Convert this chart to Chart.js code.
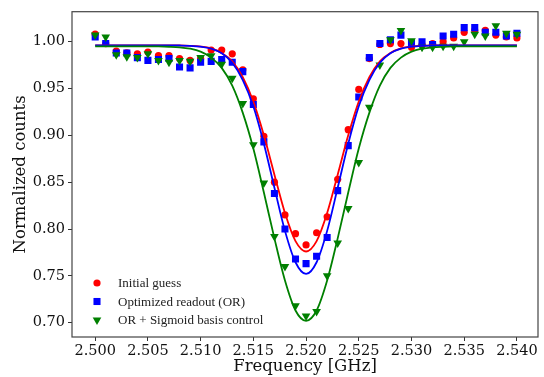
<!DOCTYPE html>
<html>
<head>
<meta charset="utf-8">
<script src="https://cdn.jsdelivr.net/npm/chart.js@4/dist/chart.umd.min.js"></script>
<style>
    html, body { margin: 0; padding: 0; background: #fff; }
    #resonance-chart { display: block; }
</style>
</head>
<body>
<canvas id="resonance-chart" width="544" height="377"></canvas>
<script>
// frequency sweep [GHz]
const freqs = [
    2.500, 2.501, 2.502, 2.503, 2.504, 2.505, 2.506, 2.507, 2.508, 2.509,
    2.510, 2.511, 2.512, 2.513, 2.514, 2.515, 2.516, 2.517, 2.518, 2.519,
    2.520, 2.521, 2.522, 2.523, 2.524, 2.525, 2.526, 2.527, 2.528, 2.529,
    2.530, 2.531, 2.532, 2.533, 2.534, 2.535, 2.536, 2.537, 2.538, 2.539,
    2.540,
];

// measured normalized counts
const initialGuess = [
    1.008, 0.998, 0.990, 0.988, 0.987, 0.989, 0.985, 0.985, 0.982, 0.980,
    0.982, 0.991, 0.991, 0.987, 0.970, 0.939, 0.899, 0.850, 0.815, 0.795,
    0.783, 0.796, 0.813, 0.853, 0.906, 0.949, 0.982, 0.997, 0.998, 0.998,
    0.994, 0.997, 0.998, 1.000, 1.004, 1.010, 1.012, 1.012, 1.007, 1.005,
    1.004,
];
const optimizedReadout = [
    1.005, 0.998, 0.988, 0.988, 0.983, 0.980, 0.981, 0.982, 0.973, 0.972,
    0.978, 0.979, 0.981, 0.978, 0.968, 0.933, 0.893, 0.838, 0.800, 0.768,
    0.763, 0.771, 0.791, 0.841, 0.889, 0.941, 0.983, 0.998, 1.002, 1.007,
    0.998, 1.000, 0.997, 1.006, 1.008, 1.015, 1.015, 1.010, 1.010, 1.006,
    1.009,
];
const sigmoidControl = [
    1.007, 1.005, 0.986, 0.984, 0.983, 0.987, 0.980, 0.978, 0.980, 0.979,
    0.983, 0.985, 0.976, 0.961, 0.934, 0.890, 0.849, 0.792, 0.760, 0.718,
    0.707, 0.712, 0.750, 0.785, 0.822, 0.871, 0.930, 0.975, 1.002, 1.012,
    1.001, 0.994, 0.994, 0.995, 0.995, 1.000, 1.008, 1.006, 1.017, 1.009,
    1.008,
];

// fitted dips on the same frequency grid
const initialFit = [
    0.996, 0.996, 0.996, 0.996, 0.996, 0.996, 0.996, 0.996, 0.996, 0.9956,
    0.9948, 0.9928, 0.988, 0.979, 0.962, 0.936, 0.900, 0.858, 0.817, 0.787,
    0.776, 0.787, 0.817, 0.858, 0.900, 0.936, 0.962, 0.979, 0.988, 0.9928,
    0.9948, 0.9956, 0.996, 0.996, 0.996, 0.996, 0.996, 0.996, 0.996, 0.996,
    0.996,
];
const optimizedFit = [
    0.996, 0.996, 0.996, 0.996, 0.996, 0.996, 0.996, 0.996, 0.9959, 0.9956,
    0.9947, 0.9926, 0.9876, 0.9775, 0.959, 0.931, 0.891, 0.844, 0.798, 0.7645,
    0.752, 0.7645, 0.798, 0.844, 0.891, 0.931, 0.959, 0.9775, 0.9876, 0.9926,
    0.9947, 0.9956, 0.9959, 0.996, 0.996, 0.996, 0.996, 0.996, 0.996, 0.996,
    0.996,
];
const sigmoidFit = [
    0.995, 0.995, 0.995, 0.995, 0.995, 0.995, 0.9949, 0.9946, 0.994, 0.9925,
    0.9894, 0.983, 0.972, 0.953, 0.924, 0.886, 0.839, 0.790, 0.745, 0.713,
    0.702, 0.713, 0.745, 0.790, 0.839, 0.886, 0.924, 0.953, 0.972, 0.983,
    0.9894, 0.9925, 0.994, 0.9946, 0.9949, 0.995, 0.995, 0.995, 0.995, 0.995,
    0.995,
];

const xTicks = [2.500, 2.505, 2.510, 2.515, 2.520, 2.525, 2.530, 2.535, 2.540];
const yTicks = [0.70, 0.75, 0.80, 0.85, 0.90, 0.95, 1.00];

const seriesLabels = ["Initial guess", "Optimized readout (OR)", "OR + Sigmoid basis control"];

const RED = "#ff0000";
const BLUE = "#0000ff";
const GREEN = "#008000";

const toPoints = (ys) => freqs.map((f, i) => ({ x: f, y: ys[i] }));

function scatterSet(label, ys, color, style, radius, rotation, order) {
    return {
        type: "scatter",
        label: label,
        data: toPoints(ys),
        showLine: false,
        pointStyle: style,
        pointRadius: radius,
        pointRotation: rotation,
        pointBackgroundColor: color,
        pointBorderColor: color,
        pointBorderWidth: 0,
        order: order,
    };
}

function fitSet(ys, color, order) {
    return {
        type: "line",
        label: "",
        data: toPoints(ys),
        borderColor: color,
        borderWidth: 1.8,
        pointRadius: 0,
        fill: false,
        cubicInterpolationMode: "monotone",
        order: order,
    };
}

// box around the plot area, drawn over the data like matplotlib spines
const framePlugin = {
    id: "frame",
    afterDraw(chart) {
        const { ctx, chartArea: a } = chart;
        ctx.save();
        ctx.strokeStyle = "#444";
        ctx.lineWidth = 1.2;
        ctx.strokeRect(a.left, a.top, a.right - a.left, a.bottom - a.top);
        ctx.restore();
    },
};

// legend in the lower left corner of the axes
const legendPlugin = {
    id: "cornerLegend",
    afterDraw(chart) {
        const { ctx, chartArea: a } = chart;
        const rows = chart.data.datasets.filter((d) => d.type === "scatter");
        ctx.save();
        ctx.font = "13px 'Liberation Serif', serif";
        ctx.textBaseline = "middle";
        ctx.textAlign = "left";
        rows.forEach((d, i) => {
            const y = a.bottom - 54 + i * 18.5;
            const x = a.left + 25;
            ctx.fillStyle = d.pointBackgroundColor;
            ctx.strokeStyle = d.pointBorderColor;
            Chart.helpers.drawPoint(ctx, {
                pointStyle: d.pointStyle,
                radius: d.pointRadius,
                rotation: d.pointRotation,
                borderWidth: 0,
            }, x, y);
            ctx.fillStyle = "#222";
            ctx.fillText(d.label, a.left + 46, y + 1);
        });
        ctx.restore();
    },
};

const tickFont = { family: "'DejaVu Serif', serif", size: 14.5 };
const titleFont = { family: "'DejaVu Serif', serif", size: 16.5 };

const config = {
    data: {
        datasets: [
            scatterSet(seriesLabels[0], initialGuess, RED, "circle", 3.6, 0, 6),
            scatterSet(seriesLabels[1], optimizedReadout, BLUE, "rect", 5, 0, 5),
            scatterSet(seriesLabels[2], sigmoidControl, GREEN, "triangle", 5, 180, 4),
            fitSet(initialFit, RED, 3),
            fitSet(optimizedFit, BLUE, 2),
            fitSet(sigmoidFit, GREEN, 1),
        ],
    },
    options: {
        responsive: false,
        animation: false,
        layout: {
            padding: { left: 0, top: 11, right: 6, bottom: 0 },
        },
        scales: {
            x: {
                type: "linear",
                min: 2.4978,
                max: 2.542,
                afterBuildTicks: (axis) => {
                    axis.ticks = xTicks.map((v) => ({ value: v }));
                },
                afterFit: (axis) => {
                    axis.height = 40;
                },
                ticks: {
                    color: "#111",
                    font: tickFont,
                    padding: 2,
                    maxRotation: 0,
                    callback: (v) => Number(v).toFixed(3),
                },
                grid: {
                    display: true,
                    drawOnChartArea: false,
                    drawTicks: true,
                    tickLength: 4,
                    tickColor: "#333",
                },
                border: { display: false },
                title: {
                    display: true,
                    text: "Frequency [GHz]",
                    color: "#111",
                    font: titleFont,
                    padding: { top: 0, bottom: 0 },
                },
            },
            y: {
                type: "linear",
                min: 0.6847,
                max: 1.032,
                afterBuildTicks: (axis) => {
                    axis.ticks = yTicks.map((v) => ({ value: v }));
                },
                afterFit: (axis) => {
                    axis.width = 72;
                },
                ticks: {
                    color: "#111",
                    font: tickFont,
                    padding: 3,
                    callback: (v) => Number(v).toFixed(2),
                },
                grid: {
                    display: true,
                    drawOnChartArea: false,
                    drawTicks: true,
                    tickLength: 4,
                    tickColor: "#333",
                },
                border: { display: false },
                title: {
                    display: true,
                    text: "Normalized counts",
                    color: "#111",
                    font: titleFont,
                    padding: { top: 11, bottom: 0 },
                },
            },
        },
        plugins: {
            legend: { display: false },
            tooltip: { enabled: false },
        },
    },
    plugins: [framePlugin, legendPlugin],
};

new Chart(document.getElementById("resonance-chart"), config);
</script>
</body>
</html>
